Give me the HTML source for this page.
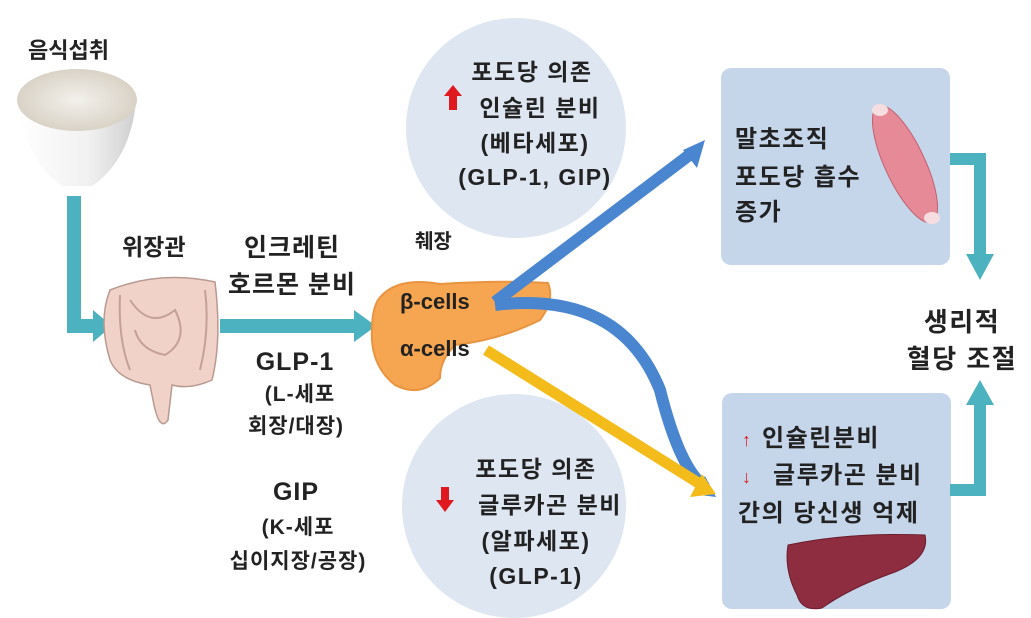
<!DOCTYPE html>
<html><head><meta charset="utf-8"><style>
body{margin:0;background:#fff;}
svg{display:block;}
text{font-family:"Liberation Sans","Noto Sans CJK KR",sans-serif;font-weight:bold;fill:#222;}
</style></head><body>
<svg width="1031" height="618" viewBox="0 0 1031 618" xmlns="http://www.w3.org/2000/svg">
<defs>
<radialGradient id="rice" cx="50%" cy="50%" r="50%"><stop offset="0" stop-color="#f3f1ec"/><stop offset="1" stop-color="#d9d2c6"/></radialGradient>
<linearGradient id="bowl" x1="0" x2="1"><stop offset="0" stop-color="#ffffff"/><stop offset="0.6" stop-color="#f1f1f1"/><stop offset="1" stop-color="#cfcfcf"/></linearGradient>
</defs>
<rect width="1031" height="618" fill="#fff"/>
<circle cx="516" cy="128" r="110" fill="#dde6f1"/>
<circle cx="514" cy="506" r="112" fill="#dde6f1"/>
<rect x="721" y="68" width="229" height="197" rx="10" fill="#c6d6ea"/>
<rect x="722" y="393" width="229" height="216" rx="10" fill="#c6d6ea"/>
<path d="M18 102 Q25 160 62 186 L92 186 Q130 160 136 102 Z" fill="url(#bowl)"/>
<ellipse cx="77" cy="100" rx="60" ry="31" fill="url(#rice)"/>
<g fill="#4cb2c0">
<rect x="67" y="196" width="14" height="137"/>
<rect x="67" y="319" width="30" height="14"/>
<polygon points="93,310 112,326 93,342"/>
<rect x="220" y="319" width="138" height="14"/>
<polygon points="354,310 376,326 354,342"/>
<rect x="950" y="153" width="36" height="12"/>
<rect x="974" y="153" width="12" height="108"/>
<polygon points="966,254 994,254 980,280"/>
<rect x="950" y="484" width="36" height="12"/>
<rect x="974" y="400" width="12" height="96"/>
<polygon points="966,405 994,405 980,380"/>
</g>
<path d="M110 290 Q160 270 215 282 Q222 340 212 380 Q190 390 172 385 L168 420 Q160 432 154 405 L150 385 Q118 380 110 360 Q98 320 110 290 Z" fill="#f1d2c8" stroke="#b79a90" stroke-width="1.5"/>
<path d="M130 300 Q150 330 175 310 Q190 340 165 355 Q140 350 135 330" fill="none" stroke="#c4a196" stroke-width="2"/>
<path d="M120 295 Q118 340 130 370 M205 290 Q210 330 200 370" fill="none" stroke="#c4a196" stroke-width="2"/>
<path d="M378 300 Q395 276 440 284 Q500 280 548 283 Q555 300 540 320 Q500 340 455 345 Q440 360 440 378 Q420 398 395 385 Q370 365 372 330 Q372 310 378 300 Z" fill="#f6a650" stroke="#e89440" stroke-width="2"/>
<g stroke="#4a86cf" stroke-width="12" fill="none">
<line x1="495" y1="302" x2="692" y2="153"/>
<path d="M495 305 Q620 290 660 390 Q680 470 706 488"/>
</g>
<polygon points="705,140 683,150 697,168" fill="#4a86cf"/>
<polygon points="716,497 692,494 705,476" fill="#4a86cf"/>
<line x1="486" y1="350" x2="700" y2="484" stroke="#f3bc1a" stroke-width="11"/>
<polygon points="716,494 690,497 702,474" fill="#f3bc1a"/>
<text x="28" y="58" font-size="22">음식섭취</text>
<text x="122" y="255" font-size="23">위장관</text>
<g text-anchor="middle" letter-spacing="1">
<text x="292" y="256" font-size="25">인크레틴</text>
<text x="292" y="293" font-size="25">호르몬 분비</text>
<text x="295" y="370" font-size="25">GLP-1</text>
<text x="300" y="401" font-size="21">(L-세포</text>
<text x="296" y="433" font-size="21">회장/대장)</text>
<text x="296" y="500" font-size="25">GIP</text>
<text x="298" y="534" font-size="21">(K-세포</text>
<text x="298" y="568" font-size="21">십이지장/공장)</text>
</g>
<text x="415" y="248" font-size="20">췌장</text>
<text x="400" y="309" font-size="22">β-cells</text>
<text x="400" y="356" font-size="22">α-cells</text>
<g text-anchor="middle" letter-spacing="1.5">
<text x="532" y="80" font-size="23">포도당 의존</text>
<text x="540" y="116" font-size="23">인슐린 분비</text>
<text x="535" y="151" font-size="23">(베타세포)</text>
<text x="535" y="185" font-size="23">(GLP-1, GIP)</text>
<text x="536" y="477" font-size="23">포도당 의존</text>
<text x="550" y="513" font-size="23">글루카곤 분비</text>
<text x="536" y="549" font-size="23">(알파세포)</text>
<text x="536" y="584" font-size="23">(GLP-1)</text>
<text x="962" y="331" font-size="26">생리적</text>
<text x="962" y="368" font-size="26">혈당 조절</text>
</g>
<polygon points="444,96 453,85 462,96 457,96 457,110 449,110 449,96" fill="#e0181f"/>
<polygon points="436,500 445,512 454,500 449,500 449,487 441,487 441,500" fill="#e0181f"/>
<g letter-spacing="1.5">
<text x="735" y="147" font-size="24">말초조직</text>
<text x="735" y="185" font-size="24">포도당 흡수</text>
<text x="735" y="220" font-size="24">증가</text>
<text x="762" y="446" font-size="24">인슐린분비</text>
<text x="773" y="483" font-size="24">글루카곤 분비</text>
<text x="738" y="521" font-size="24">간의 당신생 억제</text>
</g>
<text x="742" y="446" font-size="18" style="fill:#e0181f">↑</text>
<text x="742" y="483" font-size="18" style="fill:#e0181f">↓</text>
<ellipse cx="905" cy="164" rx="20" ry="64" transform="rotate(-25 905 164)" fill="#e78a98" stroke="#c06070"/>
<ellipse cx="880" cy="110" rx="8" ry="6" fill="#f6dde0"/>
<ellipse cx="932" cy="218" rx="8" ry="6" fill="#f6dde0"/>
<path d="M788 545 Q850 532 925 535 Q930 558 895 572 Q850 588 822 608 Q802 612 797 595 Q784 570 788 545 Z" fill="#8f2d40" stroke="#6a1c2c"/>
</svg>
</body></html>
